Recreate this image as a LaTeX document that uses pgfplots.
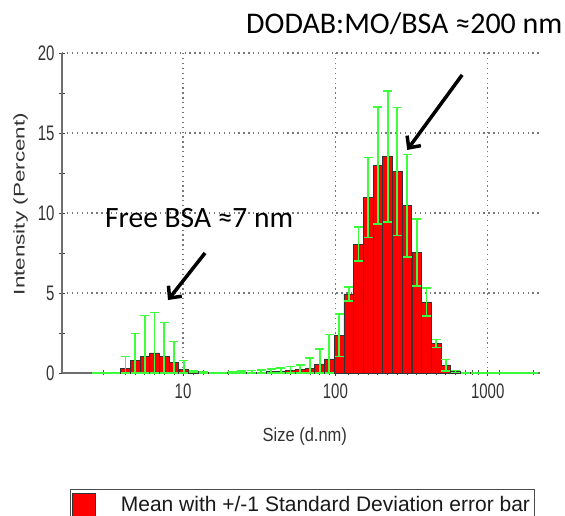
\documentclass[border=0pt]{standalone}
\usepackage{pgfplots}
\pgfplotsset{compat=1.18}
\usepackage{pgfplotstable}
\usepackage{fontspec}
\usetikzlibrary{arrows.meta}
\setmainfont{Liberation Sans}
\newfontfamily\carlito{Carlito}
\definecolor{barred}{RGB}{255,0,0}
\definecolor{errgreen}{RGB}{60,255,60}
\definecolor{axgray}{RGB}{110,110,110}
\definecolor{txtgray}{RGB}{50,50,50}
\definecolor{gridgray}{RGB}{120,120,120}
\newcommand\tl[1]{\scalebox{1}[1.4]{\fontsize{15}{18}\selectfont #1}}

% x = bin centre (nm), y = mean intensity (%), ep/em = +/- 1 SD
\pgfplotstableread{
x      y     ep    em
4.187  0.31  0.73  0.31
4.849  0.81  1.67  0.81
5.615  1.06  2.52  1.06
6.503  1.25  2.52  1.25
7.531  1.06  2.11  1.06
8.721  0.65  1.31  0.65
10.10  0.23  0.56  0.23
11.70  0.10  0.05  0.05
13.54  0.03  0.02  0.02
21.04  0.01  0.04  0.01
24.36  0.02  0.09  0.02
28.21  0.04  0.11  0.04
32.67  0.06  0.13  0.06
37.84  0.08  0.17  0.08
43.82  0.10  0.21  0.10
50.75  0.15  0.27  0.15
58.77  0.20  0.30  0.20
68.06  0.31  0.63  0.31
78.82  0.52  0.98  0.52
91.28  0.88  1.52  0.88
105.7  2.35  1.33  1.33
122.4  4.94  0.45  0.45
141.8  8.06  1.06  1.06
164.2  10.98 2.50  2.50
190.1  12.96 3.65  3.65
220.2  13.54 4.10  4.10
255.0  12.60 4.00  4.00
295.3  10.46 3.20  3.20
342.0  7.54  2.10  2.10
396.1  4.44  0.88  0.88
458.7  1.84  0.25  0.25
531.2  0.48  0.35  0.35
615.1  0.10  0.06  0.06
712.4  0.02  0.02  0.02
}\dlsdata

\begin{document}
\begin{tikzpicture}
\path[use as bounding box] (-62pt,-143pt) rectangle (503pt,373pt);
\begin{axis}[
  scale only axis,
  width=478pt, height=320pt,
  xmode=log,
  xmin=1.606, xmax=2203,
  ymin=0, ymax=20,
  clip=false,
  axis x line*=bottom,
  axis y line*=left,
  axis line style={-, draw=axgray, line width=1.3pt},
  xtick={10,100,1000},
  xticklabels={\tl{10},\tl{100},\tl{1000}},
  ytick={0,5,10,15,20},
  yticklabels={\tl{0},\tl{5},\tl{10},\tl{15},\tl{20}},
  minor ytick={2.5,7.5,12.5,17.5},
  xminorticks=false,
  extra x ticks={3,4.187,4.849,5.615,6.503,7.531,8.721,11.70,13.54,20,
    37.84,50.75,68.06,78.82,91.28,122.4,141.8,164.2,190.1,220.2,255.0,295.3,
    342.0,396.1,458.7,531.2,615.1,712.4,790,870,1200,2000},
  extra x tick labels={},
  extra x tick style={grid=none, tick align=center, major tick length=5pt,
    tick style={draw=black!70, line width=0.8pt}},
  tick align=center,
  major tick length=6pt,
  minor tick length=6pt,
  tick style={draw=black!75, line width=0.9pt},
  tick label style={text=txtgray},
  yticklabel style={xshift=-1pt},
  xticklabel style={yshift=-4pt},
  grid=major,
  major grid style={draw=gridgray, line width=1.3pt, dash pattern=on 1.3pt off 3.6pt},
  xlabel={\scalebox{1}[1.15]{\fontsize{16.5}{20}\selectfont Size (d.nm)}},
  xlabel style={at={(axis description cs:0.508,-0.198)}, anchor=center, text=txtgray},
  ylabel={\scalebox{1.45}[1]{\fontsize{15.5}{19}\selectfont Intensity (Percent)}},
  ylabel style={at={(axis description cs:-0.0868,0.528)}, anchor=center, text=txtgray},
  legend style={at={(axis description cs:0.0167,-0.3625)}, anchor=north west,
    draw=black!70, line width=1pt, inner xsep=2pt, inner ysep=3pt,
    font=\fontsize{21}{25}\selectfont, text=black!90},
  legend cell align=left,
]
\addlegendimage{legend image code/.code={
  \draw[fill=barred, draw=black!80, line width=0.8pt] (0pt,-12pt) rectangle (23pt,12pt);
  \path[draw=none, fill=none] (0pt,0pt) -- (46pt,0pt);}}
\addlegendentry{Mean with +/-1 Standard Deviation error bar}

\addplot[errgreen, line width=1.5pt, forget plot] coordinates {(2.53,0) (2136,0)};

\addplot[ybar, bar width=9.6pt, fill=barred, draw=black!80, line width=0.7pt, forget plot,
  error bars/.cd, y dir=both, y explicit,
  error bar style={draw=errgreen, solid, line width=1.8pt},
  error mark options={draw=errgreen, solid, line width=1.5pt, mark size=4.5pt, rotate=90}]
  table[x=x, y=y, y error plus=ep, y error minus=em] {\dlsdata};

\draw[-{Straight Barb[length=9pt,width=17pt]}, line width=3.5pt, black]
  (axis cs:679,18.63) -- (axis cs:296,13.94);
\draw[-{Straight Barb[length=9pt,width=17pt]}, line width=3.5pt, black]
  (axis cs:13.95,7.5) -- (axis cs:7.97,4.56);
\end{axis}
\node[anchor=west, inner sep=0pt, font=\carlito\fontsize{30}{34}\selectfont] at (184pt,349pt) {DODAB:MO/BSA ≈200 nm};
\node[anchor=west, inner sep=0pt, font=\carlito\fontsize{29.5}{33}\selectfont] at (43pt,155pt) {Free BSA ≈7 nm};
\end{tikzpicture}
\end{document}
